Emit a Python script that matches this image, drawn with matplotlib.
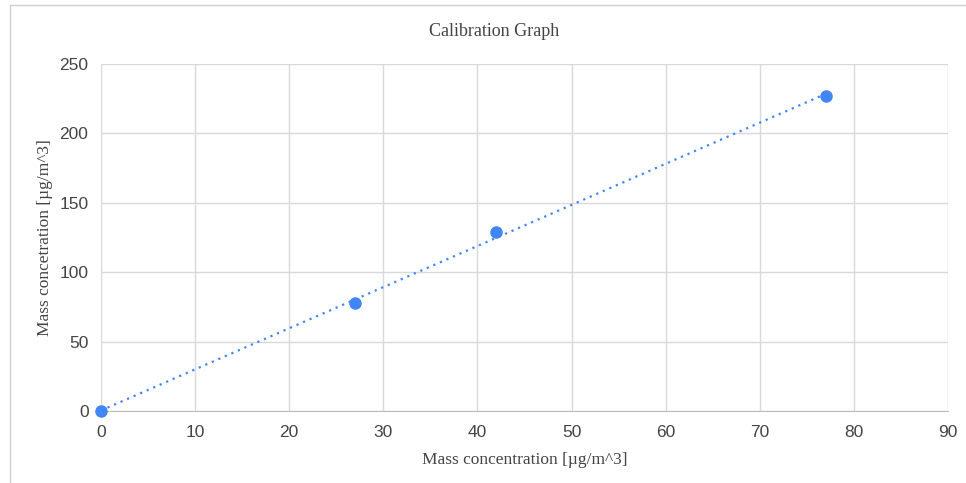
#!/usr/bin/env python3
"""Calibration graph: measured vs reference mass concentration with linear trendline."""

import numpy as np
import matplotlib
matplotlib.use('Agg')
import matplotlib.pyplot as plt
from matplotlib.lines import Line2D

# ---------------------------------------------------------------------------
# Data
# ---------------------------------------------------------------------------
x_conc = [0, 27, 42, 77]
y_conc = [0, 78, 129, 227]
x_ticks = [0, 10, 20, 30, 40, 50, 60, 70, 80, 90]
y_ticks = [0, 50, 100, 150, 200, 250]

BLUE = '#4285f4'
GRID = '#d9d9d9'
TEXT = '#444444'

# ---------------------------------------------------------------------------
# Plot
# ---------------------------------------------------------------------------
fig = plt.figure(figsize=(9.66, 4.83), dpi=100)
ax = fig.add_axes([101 / 966, 1 - 411 / 483, (948 - 101) / 966, (411 - 64) / 483])

# linear trendline (least squares) over the data range
slope, icpt = np.polyfit(x_conc, y_conc, 1)
xt = np.array([min(x_conc), max(x_conc)])
ax.plot(xt, slope * xt + icpt, color=BLUE, lw=1.6, ls=(0, (1, 2.2)),
        dash_capstyle='butt', zorder=3)

ax.plot(x_conc, y_conc, 'o', color=BLUE, ms=8, zorder=4, clip_on=False)

ax.set_xlim(0, 90)
ax.set_ylim(0, 250)
ax.set_xticks(x_ticks)
ax.set_yticks(y_ticks)
ax.grid(True, color=GRID, lw=1.0)
ax.set_axisbelow(True)
for s in ('top', 'right', 'left'):
    ax.spines[s].set_visible(False)
ax.spines['bottom'].set_color('#bbbbbb')
ax.tick_params(axis='x', length=0, labelsize=12.5, labelcolor=TEXT, pad=10)
ax.tick_params(axis='y', length=0, labelsize=12.5, labelcolor=TEXT, pad=9)
for lab in ax.get_xticklabels() + ax.get_yticklabels():
    lab.set_family('Liberation Sans')

ax.set_xlabel('Mass concentration [µg/m^3]', family='Liberation Serif',
              fontsize=12.5, color=TEXT, labelpad=9)
ax.set_ylabel('Mass concetration [µg/m^3]', family='Liberation Serif',
              fontsize=12.5, color=TEXT, va='center')
ax.yaxis.set_label_coords((45 - 101) / 847, 0.5)
fig.text(494 / 966, 1 - 32 / 483, 'Calibration Graph', family='Liberation Serif',
         fontsize=13, color=TEXT, ha='center', va='center')

# partial chart border (left and top edges)
fig.add_artist(Line2D([10 / 966, 10 / 966], [0, 1 - 5 / 483],
                      transform=fig.transFigure, color='#d0d0d0', lw=1))
fig.add_artist(Line2D([10 / 966, 1], [1 - 5 / 483, 1 - 5 / 483],
                      transform=fig.transFigure, color='#d0d0d0', lw=1))

fig.savefig('out.png', dpi=100)
